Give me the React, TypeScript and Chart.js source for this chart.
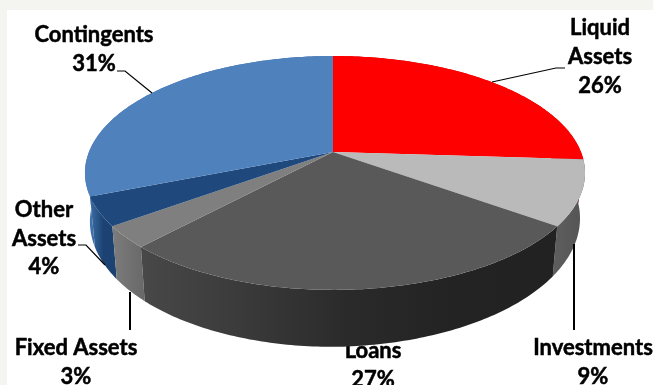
import React, { useEffect, useRef } from "react";
import { Chart, registerables } from "chart.js";

Chart.register(...registerables);

const categories = ["Liquid Assets", "Investments", "Loans", "Fixed Assets", "Other Assets", "Contingents"];
const shares = [26, 9, 27, 3, 4, 31];
const labelLines = [["Liquid", "Assets"], ["Investments"], ["Loans"], ["Fixed Assets"], ["Other", "Assets"], ["Contingents"]];

const topColors = ["#ff0000", "#bababa", "#595959", "#7f7f7f", "#1f497d", "#4f81bd"];
const wallStops: string[][] = [
  ["#cc0000", "#cc0000"],
  ["#5e5e5e", "#545454"],
  ["#484848", "#3a3a3a", "#2a2a2a", "#232323", "#222222"],
  ["#7c7c7c", "#686868"],
  ["#3b6da6", "#1b4272", "#1b4272"],
  ["#3f70aa", "#3f70aa"],
];
const wallOrder = [5, 0, 4, 1, 3, 2];

// Label anchors: centre x, first line y, line height
const labelAnchors = [
  { x: 600, y: 28, step: 29 },
  { x: 593, y: 348, step: 29 },
  { x: 373, y: 351, step: 29 },
  { x: 76, y: 348, step: 29 },
  { x: 44, y: 210, step: 28.5 },
  { x: 94, y: 35, step: 29 },
];
const leaders = [
  { w: 1.2, pts: [[565, 68], [556, 68], [492, 82]] },
  { w: 2, pts: [[574, 244], [574, 330]] },
  { w: 2, pts: [[130, 292], [130, 330]] },
  { w: 1.2, pts: [[78, 245], [86, 245], [105, 265]] },
  { w: 1.2, pts: [[117, 71], [125, 71], [152, 93]] },
];

// Perspective projection of the unit disc onto the tilted pie face
const CX = 333, CY = 152, A = 246, B = 113.2, K = 0.179;
const topPoint = (u: number, v: number): [number, number] => {
  const d = 1 - K * v;
  const side = u < 0 ? 0.992 : 1.008;
  return [CX + (A * u * side) / d, CY + (B * v) / d];
};
const rimPoint = (u: number, v: number): [number, number] => {
  const [x, y] = topPoint(u, v);
  const rightLift = u > 0 ? 3.5 * u : 0;
  return [CX + (x - CX) * 0.98, y + 47 + 10 * v - rightLift];
};
const sampleArc = (start: number, end: number, fn: (u: number, v: number) => [number, number]) => {
  const n = Math.max(2, Math.ceil((end - start) / 0.015));
  const pts: [number, number][] = [];
  for (let i = 0; i <= n; i++) {
    const a = start + ((end - start) * i) / n;
    pts.push(fn(Math.cos(a), Math.sin(a)));
  }
  return pts;
};

const tiltedPie = {
  id: "tiltedPie",
  beforeDatasetsDraw(chart: Chart) {
    const ctx = chart.ctx;
    const arcs = chart.getDatasetMeta(0).data as any[];
    ctx.save();

    ctx.fillStyle = "#f4f5f1";
    ctx.fillRect(0, 0, 653, 385);
    ctx.fillStyle = "#ffffff";
    ctx.fillRect(7, 10, 646, 375);

    // Labels go first: the pie rim overlaps the top of "Loans"
    ctx.fillStyle = "#000000";
    ctx.strokeStyle = "#000000";
    ctx.lineWidth = 0.5;
    ctx.font = 'bold 22px Lato, "Open Sans", sans-serif';
    ctx.textAlign = "center";
    ctx.textBaseline = "middle";
    arcs.forEach((_, i) => {
      const { x, y, step } = labelAnchors[i];
      const lines = [...labelLines[i], `${shares[i]}%`];
      lines.forEach((t, j) => {
        ctx.fillText(t, x, y + j * step);
        ctx.strokeText(t, x, y + j * step);
      });
    });

    // Side wall, back slices before front ones
    wallOrder.forEach((i) => {
      const { startAngle, endAngle } = arcs[i];
      const upper = sampleArc(startAngle, endAngle, topPoint);
      const lower = sampleArc(startAngle, endAngle, rimPoint).reverse();
      const xs = [...upper, ...lower].map((p) => p[0]);
      const x0 = Math.min(...xs), x1 = Math.max(...xs);
      const grad = ctx.createLinearGradient(x0, 0, x1 + 0.01, 0);
      wallStops[i].forEach((c, k) => grad.addColorStop(k / (wallStops[i].length - 1), c));
      ctx.fillStyle = grad;
      ctx.beginPath();
      [...upper, ...lower].forEach((p, k) => (k ? ctx.lineTo(p[0], p[1]) : ctx.moveTo(p[0], p[1])));
      ctx.closePath();
      ctx.fill();
    });

    // Top face
    arcs.forEach((arc, i) => {
      ctx.fillStyle = topColors[i];
      ctx.beginPath();
      ctx.moveTo(CX, CY);
      sampleArc(arc.startAngle, arc.endAngle, topPoint).forEach((p) => ctx.lineTo(p[0], p[1]));
      ctx.closePath();
      ctx.fill();
    });

    // Leader lines
    ctx.strokeStyle = "#000000";
    leaders.forEach(({ w, pts }) => {
      ctx.lineWidth = w;
      ctx.beginPath();
      pts.forEach((p, k) => (k ? ctx.lineTo(p[0], p[1]) : ctx.moveTo(p[0], p[1])));
      ctx.stroke();
    });

    ctx.restore();
    return false;
  },
};

export default function App() {
  const ref = useRef<HTMLCanvasElement>(null);
  useEffect(() => {
    const chart = new Chart(ref.current!, {
      type: "pie",
      data: {
        labels: categories,
        datasets: [{ data: shares, backgroundColor: topColors, borderWidth: 0 }],
      },
      options: {
        responsive: false,
        animation: false,
        devicePixelRatio: 1,
        plugins: { legend: { display: false }, tooltip: { enabled: false } },
      },
      plugins: [tiltedPie],
    });
    return () => chart.destroy();
  }, []);
  return (
    <div style={{ position: "fixed", left: 0, top: 0, width: 653, height: 385 }}>
      <canvas ref={ref} width={653} height={385} style={{ display: "block" }} />
    </div>
  );
}
